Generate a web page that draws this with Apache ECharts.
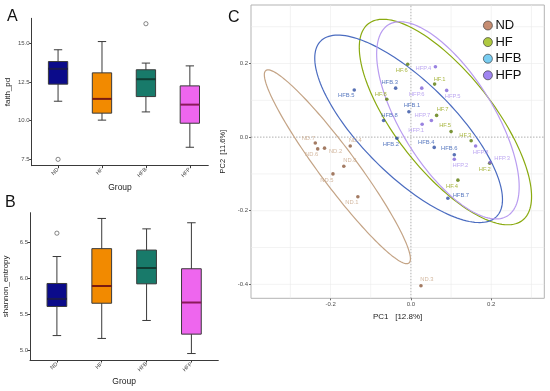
<!DOCTYPE html>
<html><head><meta charset="utf-8">
<script src="https://cdn.jsdelivr.net/npm/echarts@6/dist/echarts.min.js"></script>
<style>html,body{margin:0;padding:0;background:#fff}#c{width:550px;height:391px}</style>
</head><body><div id="c"></div>
<script>
// ---------- data ----------
const groups = ['ND', 'HF', 'HFB', 'HFP'];

// Panel A: faith_pd box statistics per group
const faithMin    = [11.25, 10.03, 10.56, 8.28];
const faithQ1     = [12.35, 10.48, 11.55, 9.83];
const faithMedian = [13.34, 11.40, 12.67, 11.03];
const faithQ3     = [13.81, 13.08, 13.28, 12.24];
const faithMax    = [14.57, 15.10, 13.71, 13.53];
const faithOutlierGroup = ['ND', 'HFB'];
const faithOutlierValue = [7.50, 16.25];
const faithTicks = [7.5, 10.0, 12.5, 15.0];

// Panel B: shannon_entropy box statistics per group
const shannonMin    = [5.20, 5.16, 5.41, 4.95];
const shannonQ1     = [5.605, 5.65, 5.92, 5.22];
const shannonMedian = [5.71, 5.89, 6.14, 5.66];
const shannonQ3     = [5.925, 6.41, 6.39, 6.13];
const shannonMax    = [6.30, 6.83, 6.685, 6.77];
const shannonOutlierGroup = ['ND'];
const shannonOutlierValue = [6.625];
const shannonTicks = [5.0, 5.5, 6.0, 6.5];

// Panel C: PCoA sample coordinates
const ndNames = ['ND.1', 'ND.2', 'ND.3', 'ND.4', 'ND.5', 'ND.6', 'ND.7', 'ND.8'];
const ndPC1   = [-0.132, -0.215, 0.025, -0.151, -0.194, -0.232, -0.238, -0.167];
const ndPC2   = [-0.162, -0.030, -0.404, -0.024, -0.100, -0.032, -0.016, -0.079];

const hfNames = ['HF.1', 'HF.2', 'HF.3', 'HF.4', 'HF.5', 'HF.6', 'HF.7', 'HF.8'];
const hfPC1   = [0.059, 0.196, 0.150, 0.117, 0.100, -0.008, 0.064, -0.060];
const hfPC2   = [0.144, -0.071, -0.010, -0.117, 0.015, 0.198, 0.059, 0.103];

const hfbNames = ['HFB.1', 'HFB.2', 'HFB.3', 'HFB.4', 'HFB.5', 'HFB.6', 'HFB.7', 'HFB.8'];
const hfbPC1   = [-0.005, -0.035, -0.038, 0.058, -0.141, 0.108, 0.092, -0.068];
const hfbPC2   = [0.069, -0.003, 0.133, -0.028, 0.128, -0.048, -0.166, 0.045];

const hfpNames = ['HFP.1', 'HFP.2', 'HFP.3', 'HFP.4', 'HFP.5', 'HFP.6', 'HFP.7', 'HFP.8'];
const hfpPC1   = [0.028, 0.108, 0.197, 0.061, 0.089, 0.027, 0.051, 0.161];
const hfpPC2   = [0.035, -0.060, -0.069, 0.191, 0.127, 0.133, 0.045, -0.024];

// confidence ellipses: centre and two conjugate semi-axes (PC units)
const ellipseND  = { c: [-0.1830, -0.0806], a: [0.1780, -0.2616], b: [0.0370, 0.0300] };
const ellipseHF  = { c: [0.0859, 0.0410], a: [0.1919, -0.2670], b: [0.0956, 0.0817] };
const ellipseHFB = { c: [-0.0057, 0.0225], a: [0.2188, -0.2385], b: [0.0819, 0.0893] };
const ellipseHFP = { c: [0.0921, 0.0456], a: [0.1481, -0.2597], b: [0.0976, 0.0662] };

const pc1Ticks = [-0.2, 0.0, 0.2];
const pc2Ticks = [-0.4, -0.2, 0.0, 0.2];
const pc1Grid = [-0.3, -0.2, -0.1, 0.1, 0.2, 0.3];
const pc2Grid = [-0.4, -0.3, -0.2, -0.1, 0.1, 0.2, 0.3];

// ---------- styles ----------
const boxFill   = ['#0b0b8a', '#f28a00', '#187a6a', '#ee66ee'];
const boxMedian = ['#1a1a50', '#7a1a10', '#103c32', '#8a1a5a'];
const grpPoint  = { ND: '#8c5a3c', HF: '#5a7a08', HFB: '#2f4fa3', HFP: '#7f63d8' };
const grpLabel  = { ND: '#c8a688', HF: '#93a512', HFB: '#3058b0', HFP: '#ad92ee' };
const grpEllipse= { ND: '#c4a486', HF: '#8aaa10', HFB: '#4b6cc0', HFP: '#b99cf0' };
const grpLegend = { ND: '#b8714f', HF: '#9bbb10', HFB: '#58c0ee', HFP: '#8866ee' };
const labelShift = {
  'ND.7': [-7, -5], 'ND.6': [-6, 6], 'ND.2': [11, 3], 'ND.4': [5, -6], 'ND.8': [6, -6], 'ND.5': [-6, 6], 'ND.1': [-6, 6], 'ND.3': [6, -6],
  'HFB.5': [-8, 5], 'HFB.3': [-6, -6], 'HFB.8': [6, -5], 'HFB.1': [3, -6], 'HFB.2': [-6, 6], 'HFB.4': [-8, -5], 'HFB.6': [-5, -6], 'HFB.7': [13, -3],
  'HF.6': [-6, 6], 'HF.1': [5, -5], 'HF.8': [-6, -5], 'HF.7': [6, -6], 'HF.5': [-6, -6], 'HF.3': [-6, -5], 'HF.2': [-5, 6], 'HF.4': [-6, 6],
  'HFP.4': [-12, 2], 'HFP.6': [-5, 6], 'HFP.5': [6, 6], 'HFP.7': [-9, -5], 'HFP.1': [-6, 6], 'HFP.8': [5, 6], 'HFP.2': [6, 6], 'HFP.3': [12, -4]
};
const FONT = 'Liberation Sans';
const PC1_MIN = -0.398, PC1_MAX = 0.332, PC2_MIN = -0.438, PC2_MAX = 0.359;

// ---------- helpers ----------
function boxRender(fills, medians) {
  return function (params, api) {
    const x = api.value(0);
    const lo = api.coord([x, api.value(1)]);
    const q1 = api.coord([x, api.value(2)]);
    const md = api.coord([x, api.value(3)]);
    const q3 = api.coord([x, api.value(4)]);
    const hi = api.coord([x, api.value(5)]);
    const half = api.size([0.22, 0])[0];
    const cap = api.size([0.095, 0])[0];
    const i = params.dataIndex;
    const ls = { stroke: '#3a3a3a', lineWidth: 1 };
    return { type: 'group', children: [
      { type: 'line', shape: { x1: lo[0], y1: lo[1], x2: hi[0], y2: hi[1] }, style: ls },
      { type: 'line', shape: { x1: lo[0] - cap, y1: lo[1], x2: lo[0] + cap, y2: lo[1] }, style: ls },
      { type: 'line', shape: { x1: hi[0] - cap, y1: hi[1], x2: hi[0] + cap, y2: hi[1] }, style: ls },
      { type: 'rect', shape: { x: q3[0] - half, y: q3[1], width: 2 * half, height: q1[1] - q3[1] },
        style: { fill: fills[i], stroke: '#3a3a3a', lineWidth: 1 } },
      { type: 'line', shape: { x1: md[0] - half, y1: md[1], x2: md[0] + half, y2: md[1] },
        style: { stroke: medians[i], lineWidth: 2 } }
    ]};
  };
}
function boxData(mn, q1, md, q3, mx) {
  return groups.map((g, i) => [i + 1, mn[i], q1[i], md[i], q3[i], mx[i]]);
}
function outlierData(gs, vs) {
  return gs.map((g, i) => [groups.indexOf(g) + 1, vs[i]]);
}
function ellipseSeries(name, e) {
  return {
    type: 'custom', name: name + ' ellipse', xAxisIndex: 2, yAxisIndex: 2, z: 3, silent: true,
    data: [[e.c[0], e.c[1]]], encode: { x: 0, y: 1 },
    renderItem: function (params, api) {
      const pts = [];
      for (let k = 0; k <= 160; k++) {
        const t = 2 * Math.PI * k / 160;
        pts.push(api.coord([e.c[0] + e.a[0] * Math.cos(t) + e.b[0] * Math.sin(t),
                            e.c[1] + e.a[1] * Math.cos(t) + e.b[1] * Math.sin(t)]));
      }
      return { type: 'polyline', shape: { points: pts }, style: { fill: 'none', stroke: grpEllipse[name], lineWidth: 1.2 } };
    }
  };
}
function pointSeries(name, names, xs, ys) {
  return {
    type: 'scatter', name: name, xAxisIndex: 2, yAxisIndex: 2, z: 5,
    symbol: 'circle', symbolSize: 3.6,
    itemStyle: { color: grpPoint[name] },
    data: names.map((n, i) => ({
      name: n, value: [xs[i], ys[i]],
      label: { offset: labelShift[n] || [0, -6] }
    })),
    label: { show: true, formatter: p => p.name, position: 'inside', fontSize: 5.8,
             fontFamily: FONT, color: grpLabel[name], align: 'center', verticalAlign: 'middle' }
  };
}
function gridLineSeries(vals, vertical, color, dashed) {
  return {
    type: 'custom', xAxisIndex: 2, yAxisIndex: 2, z: 1, silent: true,
    data: vals.map(v => vertical ? [v, 0] : [0, v]), encode: { x: 0, y: 1 },
    renderItem: function (params, api) {
      const v = api.value(vertical ? 0 : 1);
      const p1 = vertical ? api.coord([v, PC2_MIN]) : api.coord([PC1_MIN, v]);
      const p2 = vertical ? api.coord([v, PC2_MAX]) : api.coord([PC1_MAX, v]);
      return { type: 'line', shape: { x1: p1[0], y1: p1[1], x2: p2[0], y2: p2[1] },
               style: { stroke: color, lineWidth: dashed ? 0.8 : 0.6, lineDash: dashed ? [1.5, 1.5] : null } };
    }
  };
}

const tickLabel = { fontSize: 6, color: '#4d4d4d', fontFamily: FONT };
function boxYAxis(idx, min, max, ticks, name) {
  return {
    type: 'value', gridIndex: idx, min: min, max: max, name: name, nameLocation: 'middle',
    nameGap: 20, nameTextStyle: { fontSize: 8, color: '#222', fontFamily: FONT },
    axisLine: { show: true, lineStyle: { color: '#3a3a3a', width: 1 } },
    axisTick: { show: true, length: 2.5, customValues: ticks, lineStyle: { color: '#3a3a3a' } },
    axisLabel: { customValues: ticks, formatter: v => v.toFixed(1), margin: 2, ...tickLabel },
    splitLine: { show: false }
  };
}
function boxXAxis(idx, max) {
  return {
    type: 'value', gridIndex: idx, min: 0.4, max: max, name: 'Group', nameLocation: 'middle',
    nameGap: 17, nameTextStyle: { fontSize: 8.5, color: '#222', fontFamily: FONT },
    axisLine: { show: true, onZero: false, lineStyle: { color: '#3a3a3a', width: 1 } },
    axisTick: { show: true, length: 2.5, customValues: [1, 2, 3, 4], lineStyle: { color: '#3a3a3a' } },
    axisLabel: { customValues: [1, 2, 3, 4], formatter: v => groups[Math.round(v) - 1], rotate: 45,
                 margin: 3, ...tickLabel, fontSize: 5.5 },
    splitLine: { show: false }
  };
}

const chart = echarts.init(document.getElementById('c'), null, { renderer: 'canvas' });
chart.setOption({
  animation: false,
  backgroundColor: '#fff',
  textStyle: { fontFamily: FONT },
  grid: [
    { left: 31.7, top: 18.3, width: 176.6, height: 147.4 },
    { left: 30, top: 212.7, width: 188.3, height: 147.3 },
    { left: 251, top: 5, width: 293.3, height: 293.3, show: true, backgroundColor: '#fff',
      borderColor: '#b3b3b3', borderWidth: 1 }
  ],
  xAxis: [
    boxXAxis(0, 4.42),
    boxXAxis(1, 4.6),
    { type: 'value', gridIndex: 2, min: PC1_MIN, max: PC1_MAX, name: 'PC1   [12.8%]', nameLocation: 'middle',
      nameGap: 14, nameTextStyle: { fontSize: 8, color: '#222', fontFamily: FONT },
      axisLine: { show: false, onZero: false },
      axisTick: { show: true, length: 2, customValues: pc1Ticks, lineStyle: { color: '#666' } },
      axisLabel: { customValues: pc1Ticks, formatter: v => v.toFixed(1), margin: 3, ...tickLabel },
      splitLine: { show: false } }
  ],
  yAxis: [
    boxYAxis(0, 7.09, 16.6, faithTicks, 'faith_pd'),
    boxYAxis(1, 4.86, 6.91, shannonTicks, 'shannon_entropy'),
    { type: 'value', gridIndex: 2, min: PC2_MIN, max: PC2_MAX, name: 'PC2  [11.6%]', nameLocation: 'middle',
      nameGap: 18, nameTextStyle: { fontSize: 7.5, color: '#222', fontFamily: FONT },
      axisLine: { show: false, onZero: false },
      axisTick: { show: true, length: 2, customValues: pc2Ticks, lineStyle: { color: '#666' } },
      axisLabel: { customValues: pc2Ticks, formatter: v => v.toFixed(1), margin: 3, ...tickLabel },
      splitLine: { show: false } }
  ],
  legend: {
    orient: 'vertical', left: 478, top: 14, itemGap: 3.6, itemWidth: 9, itemHeight: 9,
    textStyle: { fontSize: 13, color: '#111', fontFamily: FONT, padding: [0, 0, 0, -2] },
    data: groups.map(g => ({ name: g, icon: 'circle',
      itemStyle: { color: grpLegend[g], borderColor: '#333', borderWidth: 0.8 } }))
  },
  graphic: [
    { type: 'text', left: 7, top: 9, style: { text: 'A', fontSize: 16, fill: '#111', fontFamily: FONT } },
    { type: 'text', left: 5, top: 195, style: { text: 'B', fontSize: 16, fill: '#111', fontFamily: FONT } },
    { type: 'text', left: 228, top: 10, style: { text: 'C', fontSize: 16, fill: '#111', fontFamily: FONT } }
  ],
  series: [
    { type: 'custom', name: 'faith box', xAxisIndex: 0, yAxisIndex: 0,
      data: boxData(faithMin, faithQ1, faithMedian, faithQ3, faithMax), encode: { x: 0, y: [1, 2, 3, 4, 5] },
      renderItem: boxRender(boxFill, boxMedian) },
    { type: 'scatter', name: 'faith outliers', xAxisIndex: 0, yAxisIndex: 0, symbolSize: 4.2,
      itemStyle: { color: 'rgba(0,0,0,0)', borderColor: '#444', borderWidth: 0.8 },
      data: outlierData(faithOutlierGroup, faithOutlierValue) },
    { type: 'custom', name: 'shannon box', xAxisIndex: 1, yAxisIndex: 1,
      data: boxData(shannonMin, shannonQ1, shannonMedian, shannonQ3, shannonMax), encode: { x: 0, y: [1, 2, 3, 4, 5] },
      renderItem: boxRender(boxFill, boxMedian) },
    { type: 'scatter', name: 'shannon outliers', xAxisIndex: 1, yAxisIndex: 1, symbolSize: 4.2,
      itemStyle: { color: 'rgba(0,0,0,0)', borderColor: '#444', borderWidth: 0.8 },
      data: outlierData(shannonOutlierGroup, shannonOutlierValue) },
    gridLineSeries(pc1Grid, true, '#ebebeb', false),
    gridLineSeries(pc2Grid, false, '#ebebeb', false),
    gridLineSeries([0], true, '#9a9a9a', true),
    gridLineSeries([0], false, '#9a9a9a', true),
    ellipseSeries('ND', ellipseND),
    ellipseSeries('HF', ellipseHF),
    ellipseSeries('HFB', ellipseHFB),
    ellipseSeries('HFP', ellipseHFP),
    pointSeries('ND', ndNames, ndPC1, ndPC2),
    pointSeries('HF', hfNames, hfPC1, hfPC2),
    pointSeries('HFB', hfbNames, hfbPC1, hfbPC2),
    pointSeries('HFP', hfpNames, hfpPC1, hfpPC2)
  ]
});
</script>
</body></html>
